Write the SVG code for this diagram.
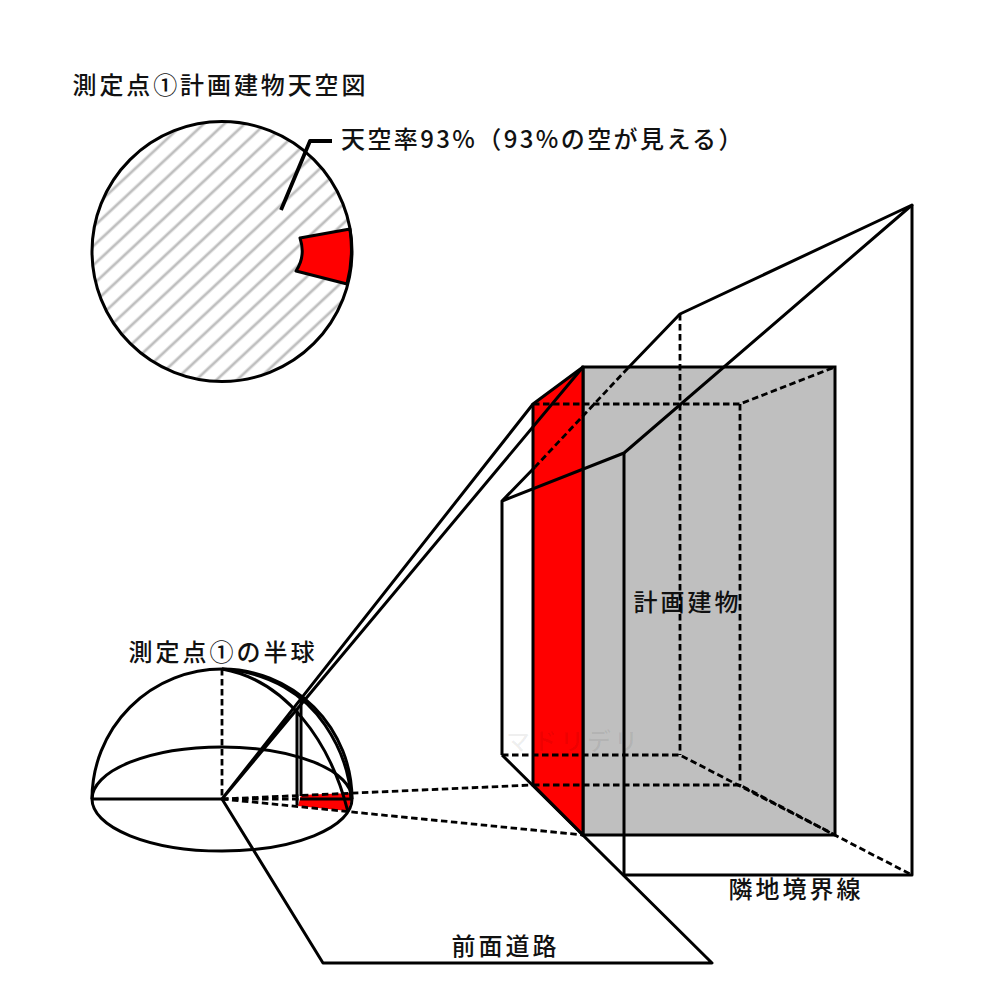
<svg xmlns="http://www.w3.org/2000/svg" width="1004" height="1004" viewBox="0 0 1004 1004">
<defs>
<pattern id="hatch" width="14" height="14" patternUnits="userSpaceOnUse" patternTransform="translate(175.2 274.9) rotate(-43)">
<path d="M-1 7H15" stroke="#bfbfbf" stroke-width="2.8" fill="none"/>
</pattern>
</defs>
<style>
text{font-family:"Noto Sans CJK JP","Noto Sans",sans-serif;font-size:24px;font-weight:500;letter-spacing:3px;fill:#111}
.s{fill:none;stroke:#000;stroke-width:3;stroke-linejoin:round}
.d{fill:none;stroke:#000;stroke-width:2.8;stroke-dasharray:6.5 3.5}
.r{fill:#f00}
</style>
<rect width="1004" height="1004" fill="#fff"/>
<g id="sky-chart">
<circle cx="222" cy="251.5" r="130" fill="#fff"/>
<circle cx="222" cy="251.5" r="130" fill="url(#hatch)"/>
<path class="s r" d="M300 238L350 229Q354 257 347 284L296 271Q306 256 300 238Z"/>
<circle class="s" cx="222" cy="251.5" r="130"/>
<path class="s" style="stroke-width:3.8" d="M281 210L310 141H332"/>
<text x="72.5" y="94" style="letter-spacing:2.9px">測定点①計画建物天空図</text>
<text x="341" y="148" style="letter-spacing:2.4px">天空率93%（93%の空が見える）</text>
</g>
<g id="building">
<rect x="583" y="367" width="252" height="468" fill="#bfbfbf" stroke="#000" stroke-width="3"/>
<path class="s r" d="M533 404L583 367V835L533 785Z"/>
<text x="633.5" y="611">計画建物</text>
<text x="506" y="750" style="fill:#000;fill-opacity:.07">マドリデリ</text>
</g>
<g id="hemisphere">
<path class="r" d="M301 795L351 793L351 800L348 811L298 806Z"/>
<path class="s" d="M92 799A130 130 0 0 1 352 799"/>
<path class="s" d="M92 799A130 52 0 0 1 352 799A130 52 0 0 1 92 799"/>
<path class="s" d="M92 799H222M300 799H351"/>
<path class="d" d="M222 669V799"/>
<path class="s" d="M222 669C270 672 305 695 325 725C342 750 350 775 351 800"/>
<path class="s" d="M222 669C285 680 330 740 348 812"/>
<path class="s" d="M297 709V805M301 699V796"/>
<text x="128.5" y="661">測定点①の半球</text>
</g>
<g id="connectors">
<path class="s" d="M222 799L533 404M222 799L583 367"/>
<path class="d" d="M222 799L533 785M222 799L583 835"/>
<path class="d" d="M222 799H300"/>
<path class="s" d="M502 755L712 963H323L222 799"/>
<path class="s" d="M502 755V501L624 453L912 205L680 314L628 368M535 467L502 501"/>
<path class="s" d="M624 453V875H912V205"/>
<path class="d" d="M628 368L535 467"/>
<path class="d" d="M680 314V755M502 755H680L912 875"/>
<path class="d" d="M533 404H740L835 367M740 404V785M533 785H740L835 835"/>
</g>
<g id="labels">
<text x="728.5" y="898">隣地境界線</text>
<text x="451.5" y="955">前面道路</text>
</g>
</svg>
